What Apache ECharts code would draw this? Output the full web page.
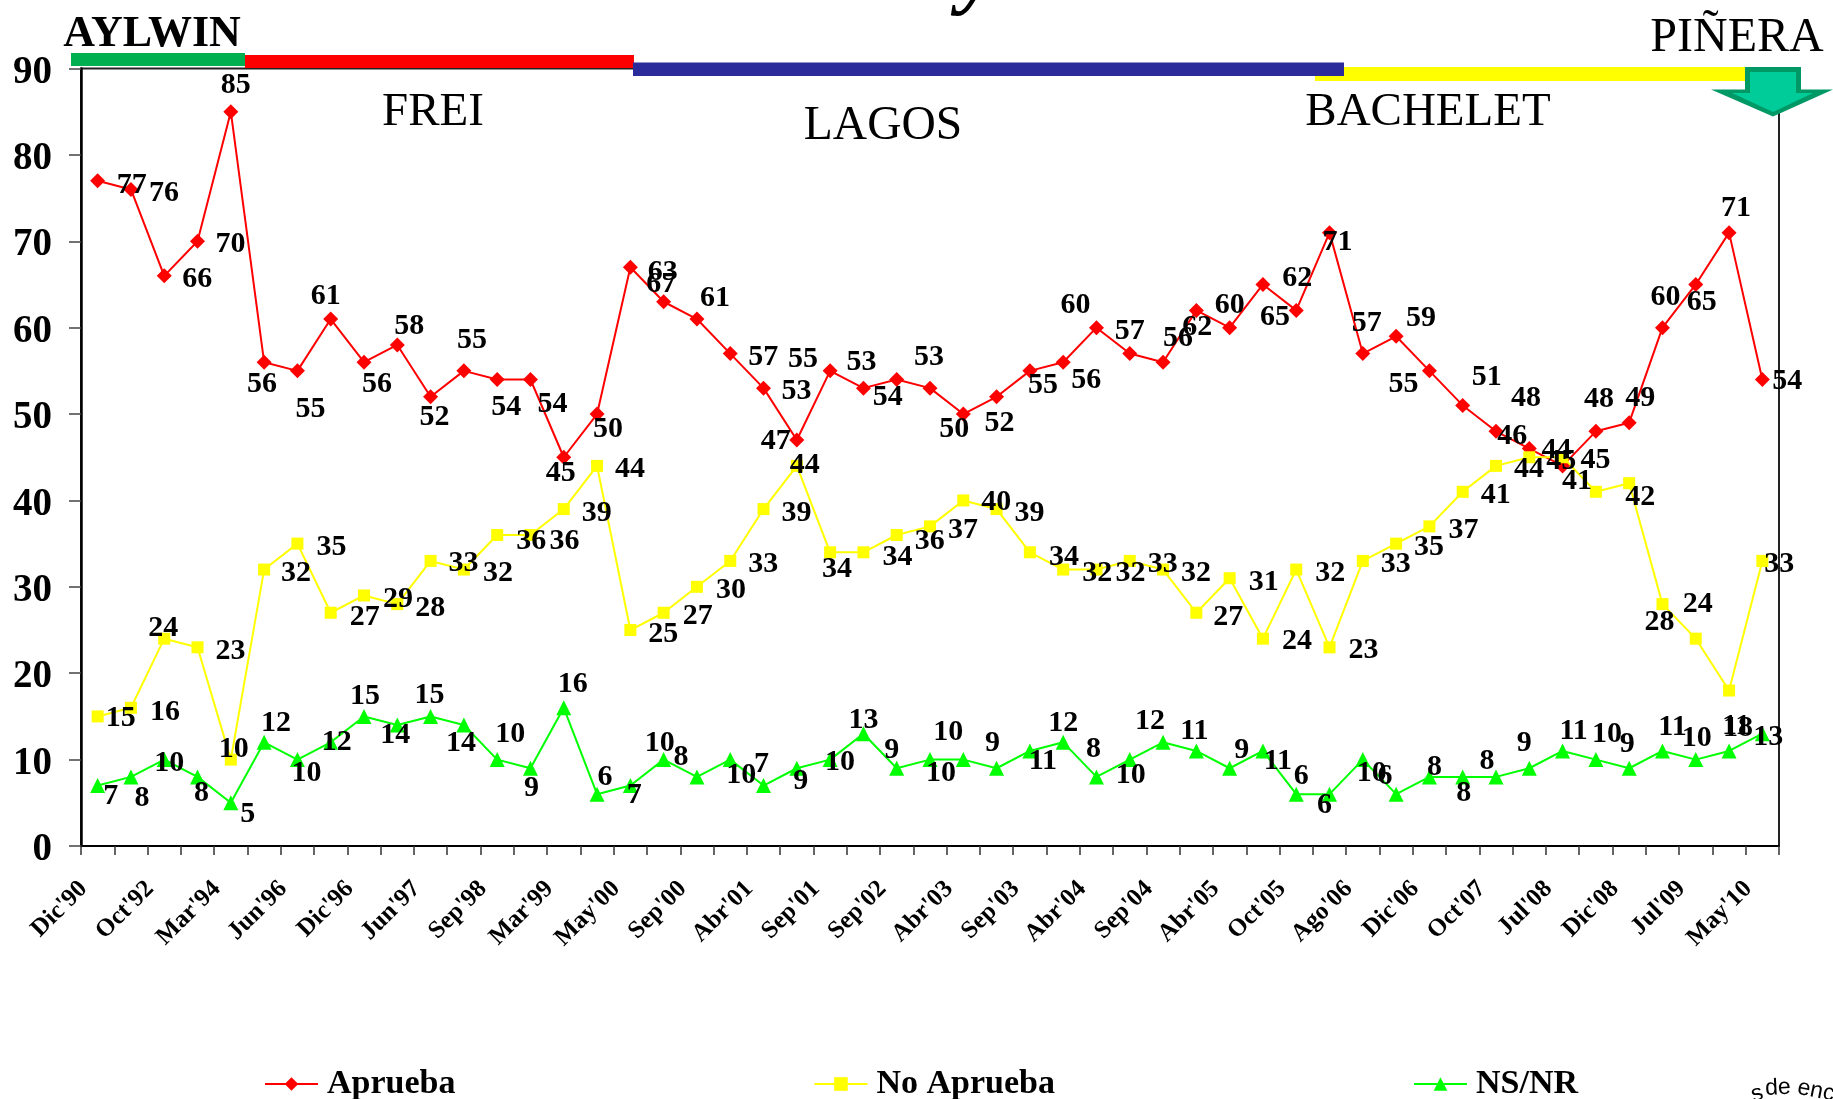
<!DOCTYPE html>
<html>
<head>
<meta charset="utf-8">
<style>html,body{margin:0;padding:0;background:#fff}#c{width:1833px;height:1099px}</style>
<script src="https://cdn.jsdelivr.net/npm/echarts@6/dist/echarts.min.js"></script>
</head>
<body>
<div id="c"></div>
<script>
const categories = ["Dic'90","","Oct'92","","Mar'94","","Jun'96","","Dic'96","","Jun'97","","Sep'98","","Mar'99","","May'00","","Sep'00","","Abr'01","","Sep'01","","Sep'02","","Abr'03","","Sep'03","","Abr'04","","Sep'04","","Abr'05","","Oct'05","","Ago'06","","Dic'06","","Oct'07","","Jul'08","","Dic'08","","Jul'09","","May'10"];
const aprueba = [77,76,66,70,85,56,55,61,56,58,52,55,54,54,45,50,67,63,61,57,53,47,55,53,54,53,50,52,55,56,60,57,56,62,60,65,62,71,57,59,55,51,48,46,44,48,49,60,65,71,54];
const noAprueba = [15,16,24,23,10,32,35,27,29,28,33,32,36,36,39,44,25,27,30,33,39,44,34,34,36,37,40,39,34,32,32,33,32,27,31,24,32,23,33,35,37,41,44,45,45,41,42,28,24,18,33];
const nsnr = [7,8,10,8,5,12,10,12,15,14,15,14,10,9,16,6,7,10,8,10,7,9,10,13,9,10,10,9,11,12,8,10,12,11,9,11,6,6,10,6,8,8,8,9,11,10,9,11,10,11,13];
const yTicks = [0,10,20,30,40,50,60,70,80,90];

// Hand-placed label nudges, as in the reference (px from each marker)
const apruebaNudge = [[33,2],[32,2],[32,1],[32,1],[4,-28],[-3,20],[12,36],[-6,-25],[12,20],[11,-21],[3,18],[7,-33],[8,26],[21,23],[-4,14],[10,13],[30,15],[-2,-32],[17,-23],[32,2],[32,1],[-22,-1],[-28,-14],[-3,-28],[-10,16],[-2,-33],[-10,13],[2,24],[12,12],[22,16],[-22,-24],[-1,-24],[14,-26],[0,15],[-1,-24],[11,31],[0,-34],[7,8],[3,-32],[24,-20],[-27,11],[23,-30],[29,-35],[-18,-14],[-7,-18],[2,-34],[10,-26],[2,-32],[5,16],[6,-26],[24,0]];
const noApruebaNudge = [[22,0],[33,2],[-2,-12],[32,2],[2,-12],[31,2],[33,2],[33,2],[33,2],[32,2],[32,0],[33,2],[33,4],[33,4],[32,2],[32,1],[32,2],[33,1],[33,1],[32,1],[32,2],[7,-3],[6,15],[33,3],[32,4],[32,2],[32,0],[32,2],[33,3],[33,2],[33,2],[32,1],[32,2],[31,2],[33,2],[33,1],[33,2],[33,1],[32,1],[32,2],[33,2],[32,1],[32,1],[31,2],[32,1],[-20,-13],[10,12],[-4,16],[1,-36],[8,36],[16,1]];
const nsnrNudge = [[12,9],[10,19],[4,2],[3,14],[16,9],[11,-21],[8,12],[5,-2],[0,-22],[-3,8],[-2,-23],[-4,16],[12,-27],[0,18],[8,-26],[7,-19],[3,8],[-5,-18],[-17,-22],[10,14],[-3,-23],[3,11],[9,1],[-1,-15],[-6,-20],[10,12],[-16,-29],[-5,-27],[12,8],[-1,-21],[-4,-30],[0,14],[-14,-23],[-3,-22],[11,-20],[14,8],[4,-20],[-6,9],[8,12],[-12,-20],[4,-12],[0,14],[-10,-18],[-6,-27],[10,-22],[10,-27],[-3,-26],[9,-26],[0,-23],[6,-27],[5,2]];

const SERIF = '"Liberation Serif","Times New Roman",serif';
const SANS = '"Liberation Sans",Arial,sans-serif';

function items(values, nudges){
  return values.map((v,i)=>({value:v,label:{offset:[nudges[i][0]+1,nudges[i][1]+2]}}));
}
function lineSeries(name,values,nudges,color,symbol,size){
  return {
    name,type:'line',data:items(values,nudges),symbol,symbolSize:size,
    showAllSymbol:true,animation:false,z:3,
    lineStyle:{color,width:2},itemStyle:{color},
    label:{show:true,position:'inside',color:'#000',fontFamily:SERIF,fontWeight:'bold',fontSize:30},
    emphasis:{disabled:true}
  };
}
function bar(x,y,w,h,fill){
  return {type:'rect',z:10,shape:{x,y,width:w,height:h},style:{fill}};
}
function txt(text,x,y,size,opts){
  const o = opts||{};
  return {type:'text',z:12,x,y,rotation:o.rotation||0,style:{text,fill:'#000',fontFamily:o.family||SERIF,fontSize:size,fontWeight:o.weight||'normal',fontStyle:o.fontStyle||'normal',align:'center',verticalAlign:o.va||'middle'}};
}

const chart = echarts.init(document.getElementById('c'),null,{renderer:'canvas'});
chart.setOption({
  animation:false,
  backgroundColor:'#fff',
  grid:{left:81,right:54,top:68.5,bottom:253,show:true,borderColor:'#222',borderWidth:2,backgroundColor:'transparent'},
  xAxis:{type:'category',data:categories,boundaryGap:true,
    axisLine:{lineStyle:{color:'#000',width:2}},
    axisTick:{show:true,interval:0,length:9,lineStyle:{color:'#333',width:1.5}},
    axisLabel:{interval:0,rotate:45,margin:25,padding:[0,20,0,0],color:'#000',fontFamily:SERIF,fontWeight:'bold',fontSize:25},
    splitLine:{show:false}},
  yAxis:{type:'value',min:yTicks[0],max:yTicks[yTicks.length-1],interval:10,
    axisLine:{show:true,lineStyle:{color:'#000',width:2.5}},
    axisTick:{show:true,length:12,lineStyle:{color:'#444',width:1.5}},
    axisLabel:{margin:29,verticalAlign:'top',lineHeight:8,color:'#000',fontFamily:SERIF,fontWeight:'bold',fontSize:39},
    splitLine:{show:false}},
  legend:{show:true,left:259,top:1062,itemWidth:53,itemHeight:17,itemGap:358,
    textStyle:{color:'#000',fontFamily:SERIF,fontWeight:'bold',fontSize:34,padding:[0,0,0,4]},
    data:['Aprueba','No Aprueba','NS/NR'],selectedMode:false},
  series:[
    lineSeries('Aprueba',aprueba,apruebaNudge,'#ff0000','diamond',15),
    lineSeries('No Aprueba',noAprueba,noApruebaNudge,'#ffff00','rect',12),
    lineSeries('NS/NR',nsnr,nsnrNudge,'#00ff00','triangle',15)
  ],
  graphic:[
    bar(71,53,174,13,'#00b050'),
    bar(245,55,389,13,'#ff0000'),
    bar(1315,67,430,14,'#ffff00'),
    bar(633,62.5,711,13.5,'#2b2b9b'),
    {type:'polygon',z:11,shape:{points:[[1745,67],[1801,67],[1801,89.5],[1833,89.5],[1773,116.5],[1711,89.5],[1745,89.5]]},style:{fill:'#009966'}},
    {type:'polygon',z:11,shape:{points:[[1750,72],[1796,72],[1796,93],[1813,93],[1773,112],[1732,93],[1750,93]]},style:{fill:'#00cc99'}},
    txt('AYLWIN',152,35,44,{weight:'bold'}),
    txt('FREI',433,113,47),
    txt('LAGOS',883,127,47.5),
    txt('BACHELET',1428,113,47),
    txt('PIÑERA',1737,38,48),
    txt('y',978,18,84,{weight:'bold',fontStyle:'italic',va:'bottom'}),
    txt('s',1757,1094,23,{rotation:0.3,family:SANS}),
    txt('de',1778,1088,23,{rotation:0.05,family:SANS}),
    txt('enc',1816,1091,23,{rotation:-0.2,family:SANS})
  ]
});
</script>
</body>
</html>
